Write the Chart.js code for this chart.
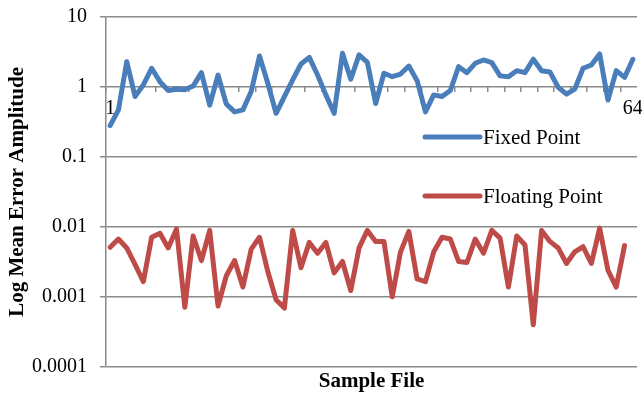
<!DOCTYPE html>
<html>
<head>
<meta charset="utf-8">
<script src="https://cdn.jsdelivr.net/npm/chart.js@4"></script>
<style>
  body { margin: 0; background: #fff; }
  #wrap { width: 642px; height: 397px; position: relative; }
</style>
</head>
<body>
<div id="wrap"><canvas id="errChart"></canvas></div>
<script>
const sampleFiles = ['1','2','3','4','5','6','7','8','9','10','11','12','13','14','15','16',
  '17','18','19','20','21','22','23','24','25','26','27','28','29','30','31','32',
  '33','34','35','36','37','38','39','40','41','42','43','44','45','46','47','48',
  '49','50','51','52','53','54','55','56','57','58','59','60','61','62','63','64'];
const shownXLabels = ['1', '64'];

const fixedPoint = [0.28, 0.47, 2.3, 0.73, 1.07, 1.85, 1.19, 0.89, 0.93, 0.91,
  1.03, 1.6, 0.55, 1.48, 0.57, 0.44, 0.47, 0.86, 2.77, 1.13,
  0.42, 0.73, 1.26, 2.13, 2.65, 1.48, 0.77, 0.42, 3.03, 1.29,
  2.87, 2.25, 0.58, 1.57, 1.4, 1.53, 1.99, 1.23, 0.44, 0.77,
  0.73, 0.89, 1.95, 1.6, 2.18, 2.43, 2.23, 1.44, 1.4, 1.71,
  1.6, 2.49, 1.71, 1.64, 0.99, 0.79, 0.93, 1.85, 2.06, 2.96,
  0.65, 1.71, 1.37, 2.49];

const floatingPoint = [0.0051, 0.0067, 0.005, 0.0029, 0.00165, 0.0071, 0.0081, 0.005, 0.0093, 0.00071,
  0.0074, 0.0033, 0.0089, 0.00074, 0.002, 0.0033, 0.00138, 0.0048, 0.0071, 0.0023,
  0.00091, 0.00069, 0.0089, 0.0026, 0.006, 0.0042, 0.006, 0.0022, 0.0032, 0.00123,
  0.005, 0.0089, 0.0062, 0.0062, 0.001, 0.0044, 0.0086, 0.0018, 0.00165, 0.0044,
  0.0071, 0.0067, 0.0032, 0.0031, 0.0067, 0.0042, 0.0089, 0.0069, 0.00138, 0.0074,
  0.0055, 0.0004, 0.0089, 0.0062, 0.005, 0.003, 0.0044, 0.0052, 0.003, 0.0096,
  0.0024, 0.00138, 0.0054, null];

const yTickValues = [0.0001, 0.001, 0.01, 0.1, 1, 10];
const yTickLabels = ['0.0001', '0.001', '0.01', '0.1', '1', '10'];

const gridGray = '#8a8a8a';
const serif = "'Liberation Serif', 'Times New Roman', serif";

Chart.defaults.font.family = serif;
Chart.defaults.color = '#000';

// keep label overhang from pushing the plot area around
const noPadding = (s) => {
  s.paddingLeft = 0; s.paddingRight = 0; s.paddingTop = 0; s.paddingBottom = 0;
};

// legend drawn inside the plot, on top of the gridlines
const innerLegend = {
  id: 'innerLegend',
  afterDatasetsDraw(chart) {
    const ctx = chart.ctx;
    const area = chart.chartArea;
    const rows = [area.top + 120, area.top + 179];
    ctx.save();
    chart.data.datasets.forEach((ds, i) => {
      const y = rows[i];
      const x0 = area.right - 212;
      ctx.strokeStyle = ds.borderColor;
      ctx.lineWidth = 5;
      ctx.lineCap = 'round';
      ctx.beginPath();
      ctx.moveTo(x0, y);
      ctx.lineTo(x0 + 55, y);
      ctx.stroke();
      ctx.fillStyle = '#000';
      ctx.font = '21px ' + serif;
      ctx.textBaseline = 'middle';
      ctx.fillText(ds.label, x0 + 58, y + 1);
    });
    ctx.restore();
  }
};

new Chart(document.getElementById('errChart'), {
  type: 'line',
  data: {
    labels: sampleFiles,
    datasets: [{
      label: 'Fixed Point',
      data: fixedPoint,
      borderColor: '#4a7ebb',
      borderWidth: 5,
      pointRadius: 0,
      tension: 0,
      borderJoinStyle: 'round',
      borderCapStyle: 'round'
    }, {
      label: 'Floating Point',
      data: floatingPoint,
      borderColor: '#be4b48',
      borderWidth: 5,
      pointRadius: 0,
      tension: 0,
      borderJoinStyle: 'round',
      borderCapStyle: 'round'
    }]
  },
  options: {
    responsive: true,
    maintainAspectRatio: false,
    animation: false,
    layout: { padding: { top: 17, right: 5, left: 0, bottom: 0 } },
    plugins: {
      legend: { display: false },
      tooltip: { enabled: false }
    },
    scales: {
      x: {
        position: { y: 1 },
        offset: true,
        afterFit: noPadding,
        grid: {
          offset: true,
          drawOnChartArea: false,
          tickLength: 5,
          lineWidth: 1.5,
          tickColor: (c) => (c.index % 2 === 0 ? gridGray : 'rgba(0,0,0,0)')
        },
        border: { display: false },
        ticks: {
          autoSkip: false,
          maxRotation: 0,
          padding: 5,
          font: { size: 20 },
          callback: (v, i) => (shownXLabels.includes(sampleFiles[i]) ? sampleFiles[i] : '')
        }
      },
      // bottom axis only carries the "Sample File" title
      xTitle: {
        type: 'category',
        position: 'bottom',
        afterFit: noPadding,
        grid: { display: false, drawTicks: false },
        border: { display: false },
        ticks: { display: false },
        title: {
          display: true,
          text: 'Sample File',
          font: { size: 21, weight: 'bold' },
          padding: { top: 2, bottom: 3 }
        }
      },
      y: {
        type: 'logarithmic',
        min: 0.0001,
        max: 10,
        afterBuildTicks: (s) => { s.ticks = yTickValues.map(v => ({ value: v })); },
        afterFit: (s) => { noPadding(s); s.width = 106; },
        grid: { color: gridGray, lineWidth: 1.5, tickLength: 6 },
        border: { display: true, color: gridGray, width: 1.5 },
        ticks: {
          padding: 13,
          font: { size: 20 },
          callback: (v) => {
            const k = yTickValues.indexOf(v);
            return k >= 0 ? yTickLabels[k] : '';
          }
        },
        title: {
          display: true,
          text: 'Log Mean Error Amplitude',
          font: { size: 21, weight: 'bold' },
          padding: { top: 5, bottom: 0 }
        }
      }
    }
  },
  plugins: [innerLegend]
});
</script>
</body>
</html>
